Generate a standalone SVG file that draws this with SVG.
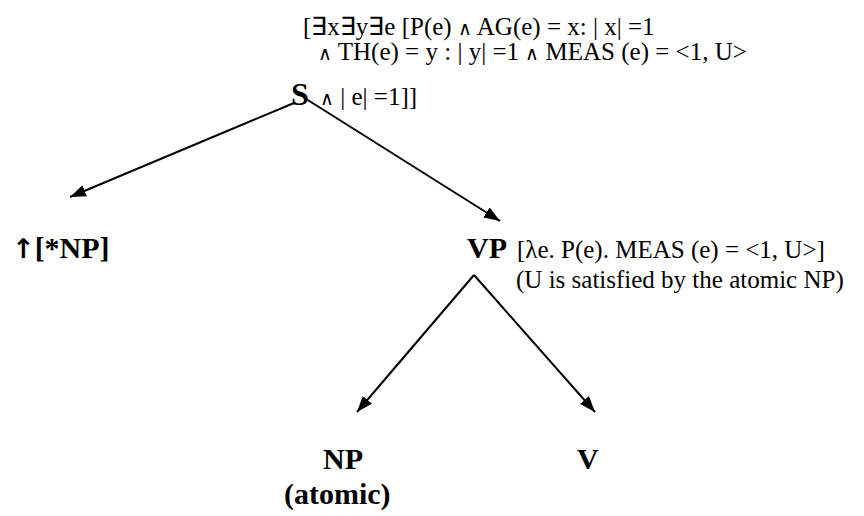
<svg xmlns="http://www.w3.org/2000/svg" width="864" height="516" viewBox="0 0 864 516">
<defs>
<marker id="ah" viewBox="0 0 16 12" refX="16" refY="6" markerWidth="16" markerHeight="12" markerUnits="userSpaceOnUse" orient="auto">
<path d="M0,0 L16,6 L0,12 Z" fill="#000"/>
</marker>
</defs>
<style>
text{font-family:"Liberation Serif","Times New Roman",serif;fill:#000}
.f{font-size:25px}
.w{font-family:"DejaVu Sans",sans-serif;font-size:19px;font-weight:200}
.b{font-size:30px;font-weight:bold}
.e{stroke:#000;stroke-width:2;fill:none;marker-end:url(#ah)}
</style>
<rect width="864" height="516" fill="#fff"/>
<g id="connectors">
<line class="e" x1="294" y1="103" x2="70" y2="197"/>
<line class="e" x1="303" y1="97" x2="500" y2="221"/>
<line class="e" x1="474" y1="275" x2="357" y2="412"/>
<line class="e" x1="474" y1="275" x2="595" y2="412"/>
</g>
<g id="S">
<text class="f" x="303" y="35">[∃x∃y∃e [P(e) <tspan class="w">∧</tspan> AG(e) = x: | x| =1</text>
<text class="f" x="318" y="60"><tspan class="w">∧</tspan> TH(e) = y : | y|  =1 <tspan class="w">∧</tspan> MEAS (e) = &lt;1, U&gt;</text>
<text class="b" x="291" y="105" style="font-size:32px">S</text>
<text class="f" x="320" y="105"><tspan class="w">∧</tspan> | e|  =1]]</text>
</g>
<g id="NP1">
<text class="b" x="12" y="258"><tspan font-family="DejaVu Sans" font-size="27">↑</tspan>[*NP]</text>
</g>
<g id="VP">
<text class="b" x="467" y="258">VP</text>
<text class="f" x="517" y="258">[λe. P(e). MEAS (e) = &lt;1, U&gt;]</text>
<text class="f" x="516" y="288">(U is satisfied by the atomic NP)</text>
</g>
<g id="NP2">
<text class="b" x="323" y="469">NP</text>
<text class="b" x="284" y="504">(atomic)</text>
</g>
<g id="V">
<text class="b" x="577" y="469">V</text>
</g>
</svg>
